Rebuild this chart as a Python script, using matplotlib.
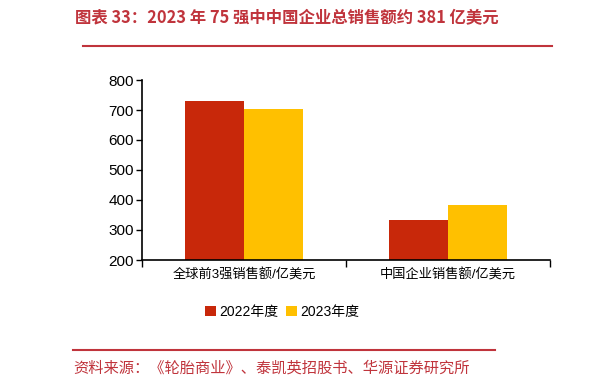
import matplotlib.pyplot as plt
from matplotlib.lines import Line2D
import numpy as np

plt.rcParams['font.family'] = ['Liberation Sans', 'Noto Sans CJK SC', 'DejaVu Sans']

categories = ['全球前3强销售额/亿美元', '中国企业销售额/亿美元']
series_names = ['2022年度', '2023年度']
values_2022 = [730, 333]
values_2023 = [705, 383]
y_ticks = [200, 300, 400, 500, 600, 700, 800]

title = '图表 33：2023 年 75 强中中国企业总销售额约 381 亿美元'
source = '资料来源：《轮胎商业》、泰凯英招股书、华源证券研究所'

red = '#C8280A'
yellow = '#FFC000'
accent = '#C0343C'
cjk = ['Noto Sans CJK SC', 'DejaVu Sans']

W, H = 614, 388
fig = plt.figure(figsize=(W / 100, H / 100), dpi=100)

def px(x0, y0, x1, y1):
	return [x0 / W, 1 - y1 / H, (x1 - x0) / W, (y1 - y0) / H]

ax = fig.add_axes(px(142, 80, 550, 260))
x = np.arange(len(categories))
bw = 0.29
ax.bar(x - bw / 2, values_2022, bw, color=red, label=series_names[0])
ax.bar(x + bw / 2, values_2023, bw, color=yellow, label=series_names[1])
ax.set_xlim(-0.5, len(categories) - 0.5)
ax.set_ylim(200, 800)
ax.set_yticks(y_ticks)
ax.tick_params(axis='y', labelsize=11, length=4, width=1, pad=2)
ax.set_xticks([-0.5, 0.5, 1.5])
ax.set_xticklabels([])
ax.set_xticks(x, minor=True)
ax.set_xticklabels(categories, minor=True, fontsize=9.5)
ax.tick_params(axis='x', which='major', length=5, width=1)
ax.tick_params(axis='x', which='minor', length=0, pad=6)
for s in ['top', 'right']:
	ax.spines[s].set_visible(False)
for s in ['left', 'bottom']:
	ax.spines[s].set_linewidth(1.2)

ax.legend(loc='center', bbox_to_anchor=(282 / W, 1 - 312 / H), bbox_transform=fig.transFigure,
	ncol=2, frameon=False, fontsize=10, handlelength=0.8, handleheight=0.8,
	handletextpad=0.2, columnspacing=0.6)

fig.text(75 / W, 1 - 18 / H, title, color=accent, fontsize=11.8, fontweight='bold',
	va='center', ha='left', family=cjk)
fig.add_artist(Line2D([83 / W, 552 / W], [1 - 46 / H, 1 - 46 / H], color=accent, lw=1.5))
fig.add_artist(Line2D([73 / W, 495 / W], [1 - 350 / H, 1 - 350 / H], color=accent, lw=1.5))
fig.text(73 / W, 1 - 368 / H, source, color=accent, fontsize=11, va='center', ha='left', family=cjk)

plt.savefig('out.png', dpi=100)
